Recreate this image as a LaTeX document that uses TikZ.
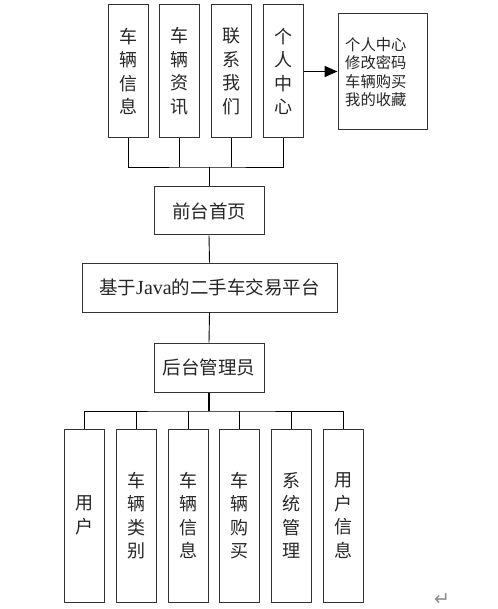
\documentclass[tikz,border=0pt]{standalone}
\usepackage{fontspec}
\setmainfont{Noto Sans CJK SC}
\newfontfamily\latinf{Liberation Serif}
\newfontfamily\symf{DejaVu Sans}
\usetikzlibrary{arrows.meta}
\begin{document}
\begin{tikzpicture}[x=1pt,y=-1pt,
  box/.style={draw=black!80,line width=1pt,fill=white,inner sep=0pt,align=center,text=black!85},
  vbox/.style={box,minimum width=40pt,font=\fontsize{18}{23.5}\selectfont},
  hbox/.style={box,minimum width=110pt,minimum height=48pt,font=\fontsize{18.5}{22}\selectfont},
  conn/.style={draw=black,line width=0.9pt},
  thickconn/.style={draw=black,line width=1.8pt}]
\useasboundingbox (0,0) rectangle (497,609);
% top row
\node[vbox,minimum height=133pt] (t1) at (128,71.5) {车\\辆\\信\\息};
\node[vbox,minimum height=133pt] (t2) at (179.5,71.5) {车\\辆\\资\\讯};
\node[vbox,minimum height=133pt] (t3) at (231.5,71.5) {联\\系\\我\\们};
\node[vbox,minimum height=133pt] (t4) at (283,71.5) {个\\人\\中\\心};
\node[box,minimum width=89pt,minimum height=116pt] (pc) at (382.5,71.5) {};
\node[anchor=west,inner sep=0pt,align=left,text=black!85,font=\fontsize{15.3}{18.5}\selectfont] (pct) at (345,72) {个人中心\\修改密码\\车辆购买\\我的收藏};
\draw[conn,line width=1.8pt,-{Triangle[length=13pt,width=11pt]}] (t4.east) -- (pc.west);
% middle
\node[hbox] (home) at (209,211) {前台首页};
\node[box,minimum width=255pt,minimum height=49pt,font=\fontsize{18.5}{22}\selectfont] (main) at (209.5,287.5) {基于{\latinf\fontsize{20}{22}\selectfont Java}的二手车交易平台};
\node[hbox,minimum height=49pt] (admin) at (209,367.5) {后台管理员};
\coordinate (jt) at (209,167);
\draw[conn] (t1.south) |- (jt) -| (t4.south);
\draw[conn] (t2.south) -- (t2.south |- jt);
\draw[conn] (t3.south) -- (t3.south |- jt);
\draw[conn] (jt) -- (home.north);
\draw[conn] (home.south) -- (main.north);
\draw[conn] (main.south) -- (admin.north);
% bottom row
\node[vbox,minimum height=173pt] (b1) at (84.5,515.5) {用\\户};
\node[vbox,minimum height=173pt] (b2) at (136.5,515.5) {车\\辆\\类\\别};
\node[vbox,minimum height=173pt] (b3) at (188,515.5) {车\\辆\\信\\息};
\node[vbox,minimum height=173pt] (b4) at (239.5,515.5) {车\\辆\\购\\买};
\node[vbox,minimum height=173pt] (b5) at (291.5,515.5) {系\\统\\管\\理};
\node[vbox,minimum height=173pt] (b6) at (343,515.5) {用\\户\\信\\息};
\coordinate (jb) at (209,411);
\draw[thickconn] (admin.south) -- (jb);
\draw[conn] (b1.north) |- (jb) -| (b6.north);
\draw[conn] (b2.north) -- (b2.north |- jb);
\draw[conn] (b3.north) -- (b3.north |- jb);
\draw[conn] (b4.north) -- (b4.north |- jb);
\draw[conn] (b5.north) -- (b5.north |- jb);
\node[font=\symf\fontsize{19}{19}\selectfont,text=black!45,inner sep=0pt] (ret) at (442,600) {↵};
\end{tikzpicture}
\end{document}
